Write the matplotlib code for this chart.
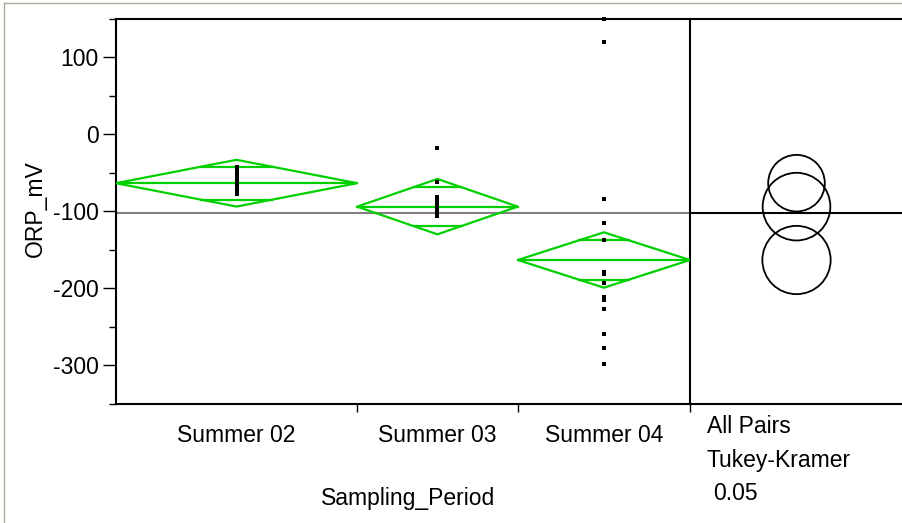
import numpy as np
import matplotlib
matplotlib.use("Agg")
import matplotlib.pyplot as plt
from matplotlib.lines import Line2D
from matplotlib.patches import Circle, Polygon
from matplotlib.ticker import MultipleLocator, FixedLocator

plt.rcParams["font.family"] = ["Liberation Sans", "DejaVu Sans"]
plt.rcParams["axes.unicode_minus"] = False

# ORP readings (mV) per sampling period
periods = ["Summer 02", "Summer 03", "Summer 04"]
orp_summer02 = [-43, -45, -47, -49, -51, -53, -54, -56, -57, -59, -61,
                -62, -64, -65, -67, -69, -71, -72, -74, -76, -78]
orp_summer03 = [-18, -62, -81, -83, -85, -87, -89, -91, -93, -95, -97,
                -100, -103, -106]
orp_summer04 = [150, 120, -84, -115, -137, -179, -181, -193, -212, -215,
                -227, -259, -278, -298, -180]

# one-way ANOVA summaries
group_means = [-63.5, -94.0, -163.4]
ci_half_width = [30.4, 36.0, 36.0]
grand_mean = -102.0
# Tukey-Kramer comparison circle radii (mV)
circle_radius = [36.8, 44.0, 44.4]

y_ticks = [-300, -200, -100, 0, 100]
y_limits = (-350, 150)

groups = [orp_summer02, orp_summer03, orp_summer04]
sizes = np.array([len(g) for g in groups])
edges = np.concatenate([[0], np.cumsum(sizes)])
centers = (edges[:-1] + edges[1:]) / 2

W, H = 903, 523
fig = plt.figure(figsize=(W / 100, H / 100), dpi=100)


def fx(px):
    return px / W


def fy(py):
    return 1 - py / H


green = "#00d000"
lw_axis = 1.5
top_px, bot_px = 19, 403.5
left_px, mid_px, right_px = 116, 690, 903

ax = fig.add_axes([fx(left_px), fy(bot_px), fx(mid_px) - fx(left_px), fy(top_px) - fy(bot_px)])
ax.set_xlim(edges[0], edges[-1])
ax.set_ylim(*y_limits)

for s in ["top", "bottom"]:
    ax.spines[s].set_visible(False)
for s in ["left", "right"]:
    ax.spines[s].set_linewidth(lw_axis)

ax.yaxis.set_major_locator(FixedLocator(y_ticks))
ax.yaxis.set_minor_locator(MultipleLocator(50))
ax.tick_params(axis="y", which="major", length=9.5, width=1.0, labelsize=16.5, pad=3)
ax.tick_params(axis="y", which="minor", length=5, width=1.0)
ax.xaxis.set_major_locator(FixedLocator(edges[1:]))
ax.tick_params(axis="x", which="major", length=6, width=1.0, labelbottom=False)
ax.xaxis.set_minor_locator(FixedLocator([]))

# grand mean reference line
ax.axhline(grand_mean, color="#808080", lw=1.5, zorder=1)

for i, vals in enumerate(groups):
    x0, x1, xc = edges[i], edges[i + 1], centers[i]
    m, h = group_means[i], ci_half_width[i]
    diamond = Polygon([[x0, m], [xc, m + h], [x1, m], [xc, m - h]], closed=True,
                      fill=False, edgecolor=green, lw=1.6, zorder=3)
    ax.add_patch(diamond)
    ax.plot([x0, x1], [m, m], color=green, lw=1.6, zorder=3)
    # overlap marks
    off = h / np.sqrt(2)
    half_w = (x1 - x0) / 2 * (1 - 1 / np.sqrt(2))
    for sgn in (1, -1):
        ax.plot([xc - half_w, xc + half_w], [m + sgn * off] * 2, color=green, lw=1.6, zorder=3)
    ax.plot(np.full(len(vals), xc), vals, linestyle="none", marker="s", markersize=3,
            color="black", markeredgewidth=0, zorder=4, clip_on=False)

ax.set_ylabel("")
fig.text(fx(35.5), fy(209), "ORP_mV", rotation=90, ha="center", va="center", fontsize=16.5)

for i, name in enumerate(periods):
    ax.text(centers[i], 0, name, transform=ax.get_xaxis_transform(), ha="center",
            va="baseline", fontsize=16.5)
fig.text(fx(408), fy(505), "Sampling_Period", ha="center", va="baseline", fontsize=16.5)

# label positions for group names in figure coords
for t in ax.texts:
    t.set_transform(matplotlib.transforms.blended_transform_factory(ax.transData, fig.transFigure))
    t.set_y(fy(442))

# comparison circles panel
ax2 = fig.add_axes([fx(mid_px), fy(bot_px), fx(right_px) - fx(mid_px), fy(top_px) - fy(bot_px)])
ax2.set_ylim(*y_limits)
w_px = right_px - mid_px
h_px = bot_px - top_px
x_span = (y_limits[1] - y_limits[0]) * w_px / h_px
ax2.set_xlim(0, x_span)
ax2.axis("off")
ax2.axhline(grand_mean, color="black", lw=1.5)
for m, r in zip(group_means, circle_radius):
    ax2.add_patch(Circle((x_span / 2, m), r, fill=False, edgecolor="black", lw=1.3))

fig.text(fx(707), fy(433), "All Pairs", ha="left", va="baseline", fontsize=16.5)
fig.text(fx(707), fy(466.5), "Tukey-Kramer", ha="left", va="baseline", fontsize=16.5)
fig.text(fx(713), fy(500), "0.05", ha="left", va="baseline", fontsize=16.5)

# frame lines across both panels
for py in (top_px, bot_px):
    fig.add_artist(Line2D([fx(left_px), 1.0], [fy(py), fy(py)], color="black", lw=lw_axis,
                          transform=fig.transFigure))

# outer window border
border = "#aca899"
fig.add_artist(Line2D([fx(4), 1.0], [fy(2.5), fy(2.5)], color=border, lw=1, transform=fig.transFigure))
fig.add_artist(Line2D([fx(4.5), fx(4.5)], [fy(2.5), 0], color=border, lw=1, transform=fig.transFigure))

fig.savefig("out.png", dpi=100)
